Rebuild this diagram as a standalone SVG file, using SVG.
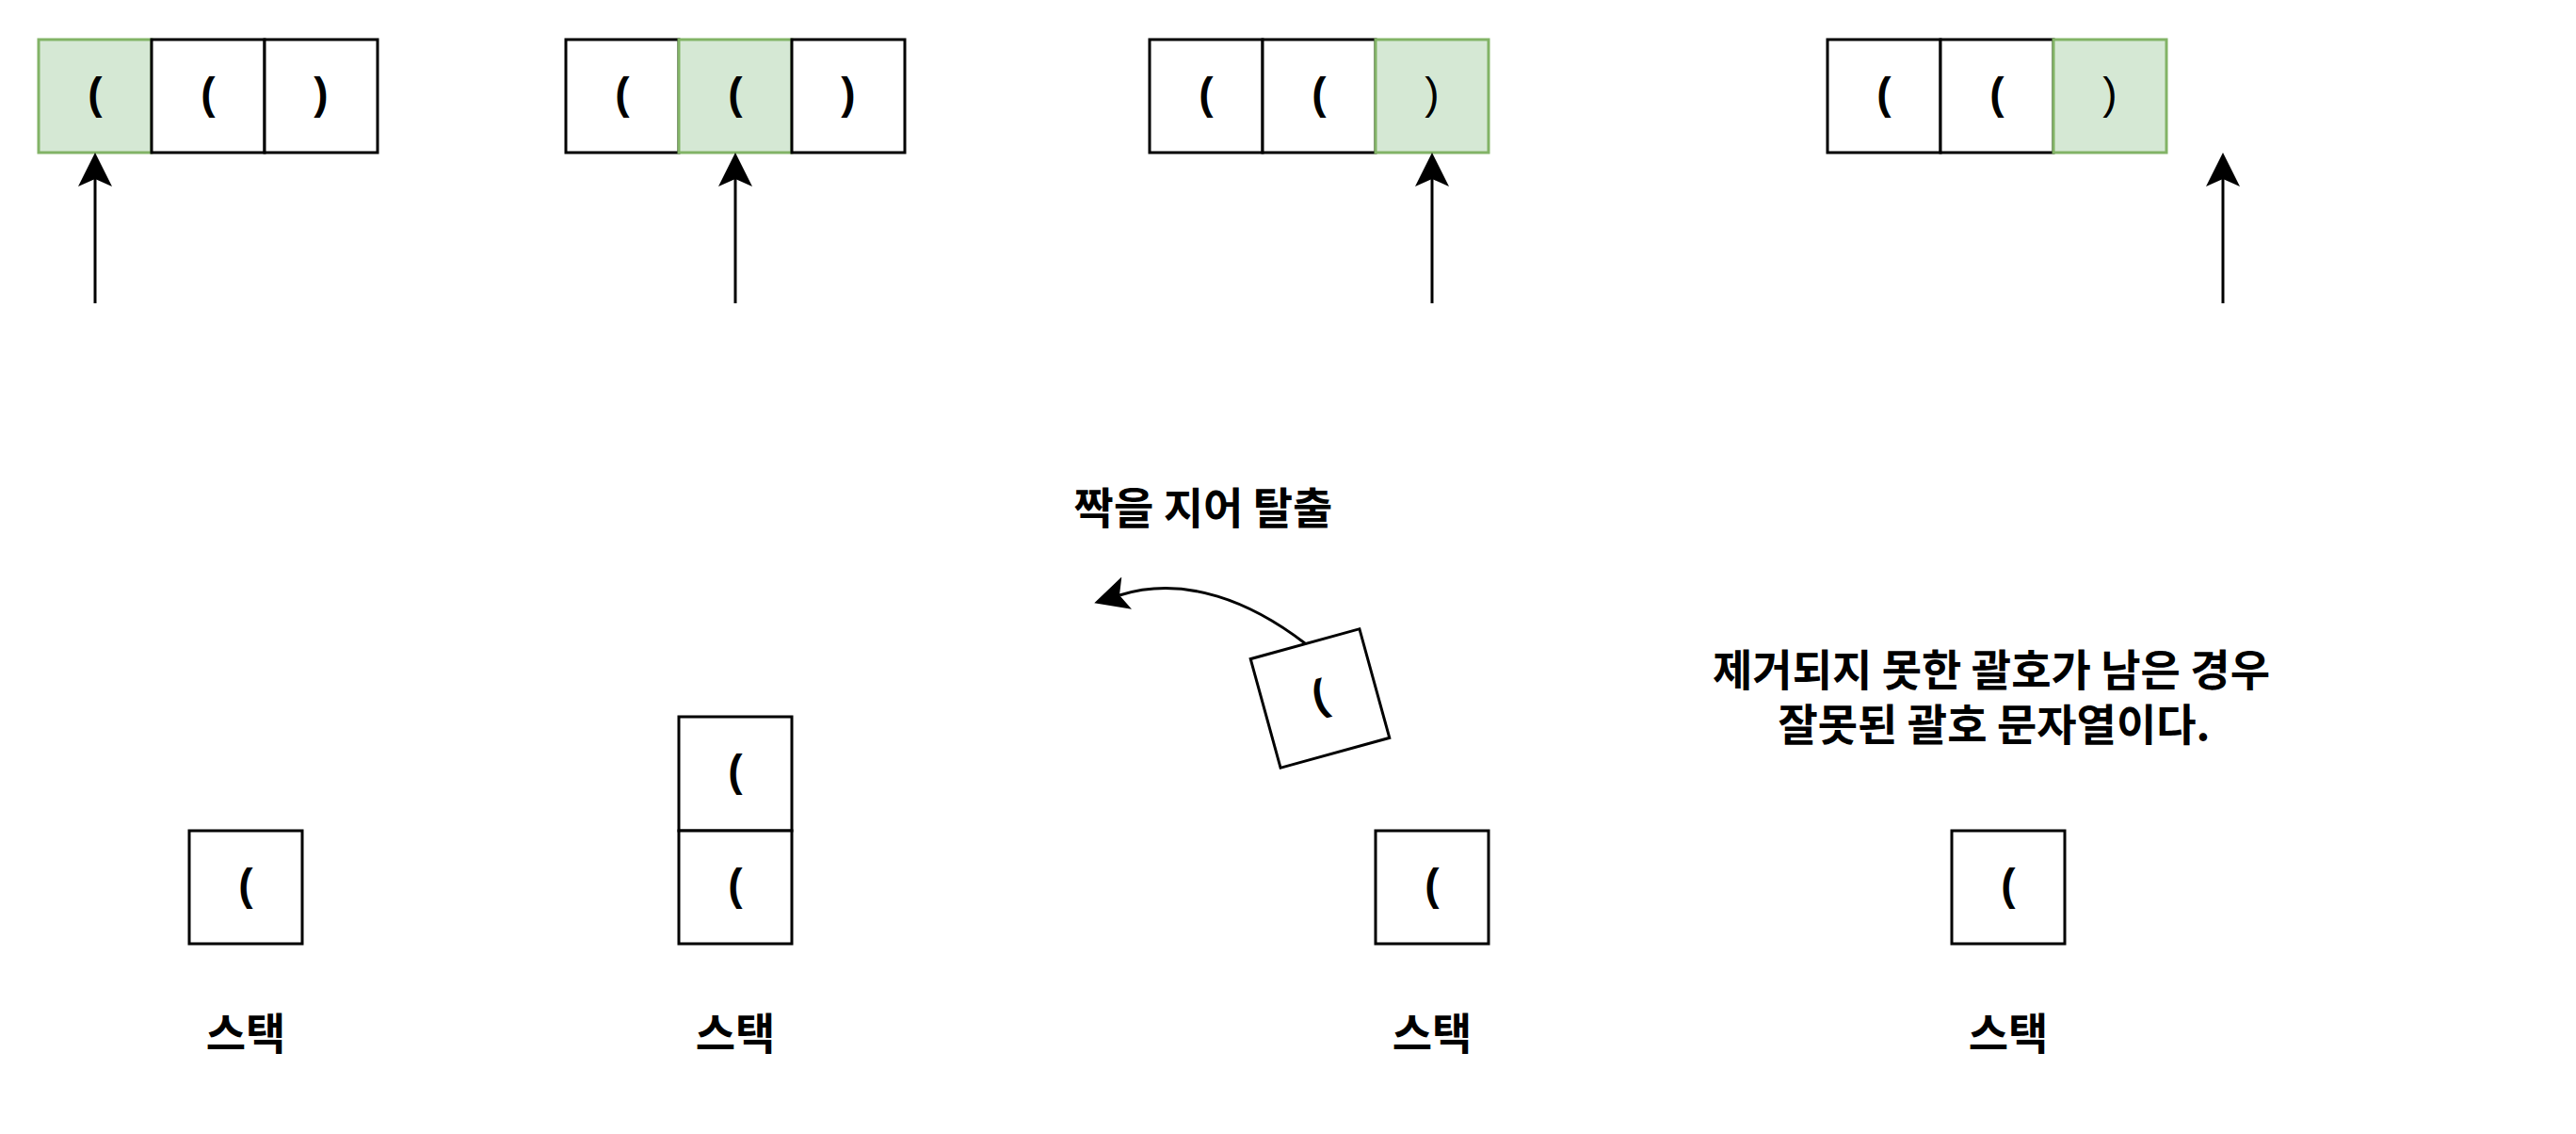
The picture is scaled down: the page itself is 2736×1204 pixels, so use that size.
<svg xmlns="http://www.w3.org/2000/svg" width="2736" height="1204" viewBox="0 0 2736 1204">
<style>
.c{fill:#ffffff;stroke:#000000;stroke-width:3}
.g{fill:#d5e8d4;stroke:#82b366;stroke-width:3}
.p{font-family:"Liberation Sans","Noto Sans CJK KR",sans-serif;font-size:46px;font-weight:bold;text-anchor:middle;fill:#000}
.pn{font-weight:normal}
.k{font-family:"Noto Sans CJK KR","Noto Sans",sans-serif;font-size:46px;font-weight:bold;text-anchor:middle;fill:#000}
.e{fill:none;stroke:#000;stroke-width:3}
</style>
<defs>
<marker id="ah" markerUnits="userSpaceOnUse" markerWidth="40" markerHeight="40" refX="8" refY="18" orient="auto">
<path d="M36,18 L0,0 L8,18 L0,36 Z" fill="#000"/>
</marker>
</defs>
<rect width="2736" height="1204" fill="#fff"/>
<g id="row1">
<rect class="g" x="41" y="42" width="120" height="120"/><text class="p" x="101" y="115">(</text>
<rect class="c" x="161" y="42" width="120" height="120"/><text class="p" x="221" y="115">(</text>
<rect class="c" x="281" y="42" width="120" height="120"/><text class="p" x="341" y="115">)</text>
</g>
<g id="row2">
<rect class="c" x="601" y="42" width="120" height="120"/><text class="p" x="661" y="115">(</text>
<rect class="g" x="721" y="42" width="120" height="120"/><text class="p" x="781" y="115">(</text>
<rect class="c" x="841" y="42" width="120" height="120"/><text class="p" x="901" y="115">)</text>
</g>
<g id="row3">
<rect class="c" x="1221" y="42" width="120" height="120"/><text class="p" x="1281" y="115">(</text>
<rect class="c" x="1341" y="42" width="120" height="120"/><text class="p" x="1401" y="115">(</text>
<rect class="g" x="1461" y="42" width="120" height="120"/><text class="p pn" x="1521" y="115">)</text>
</g>
<g id="row4">
<rect class="c" x="1941" y="42" width="120" height="120"/><text class="p" x="2001" y="115">(</text>
<rect class="c" x="2061" y="42" width="120" height="120"/><text class="p" x="2121" y="115">(</text>
<rect class="g" x="2181" y="42" width="120" height="120"/><text class="p pn" x="2241" y="115">)</text>
</g>
<g id="stack1">
<rect class="c" x="201" y="882" width="120" height="120"/><text class="p" x="261" y="955">(</text>
<text class="k" x="261" y="1114">스택</text>
</g>
<g id="stack2">
<rect class="c" x="721" y="761" width="120" height="121"/><text class="p" x="781" y="834">(</text>
<rect class="c" x="721" y="882" width="120" height="120"/><text class="p" x="781" y="955">(</text>
<text class="k" x="781" y="1114">스택</text>
</g>
<g id="stack3">
<rect class="c" x="1461" y="882" width="120" height="120"/><text class="p" x="1521" y="955">(</text>
<text class="k" x="1521" y="1114">스택</text>
</g>
<g id="stack4">
<rect class="c" x="2073" y="882" width="120" height="120"/><text class="p" x="2133" y="955">(</text>
<text class="k" x="2133" y="1114">스택</text>
</g>
<g id="popped" transform="rotate(-15.4 1402 741.5)">
<rect class="c" x="1342" y="681.5" width="120" height="120"/><text class="p" x="1402" y="754">(</text>
</g>
<g id="label-pop"><text class="k" x="1278" y="556">짝을 지어 탈출</text></g>
<g id="note">
<text class="k"><tspan x="2115" y="728">제거되지 못한 괄호가 남은 경우</tspan><tspan x="2118" y="786">잘못된 괄호 문자열이다.</tspan></text>
</g>
<g id="connectors">
<path class="e" d="M101,322 L101,190" marker-end="url(#ah)"/>
<path class="e" d="M781,322 L781,190" marker-end="url(#ah)"/>
<path class="e" d="M1521,322 L1521,190" marker-end="url(#ah)"/>
<path class="e" d="M2361,322 L2361,190" marker-end="url(#ah)"/>
<path class="e" d="M1386,683 C1330,640 1260,610 1189,632" marker-end="url(#ah)"/>
</g>
</svg>
